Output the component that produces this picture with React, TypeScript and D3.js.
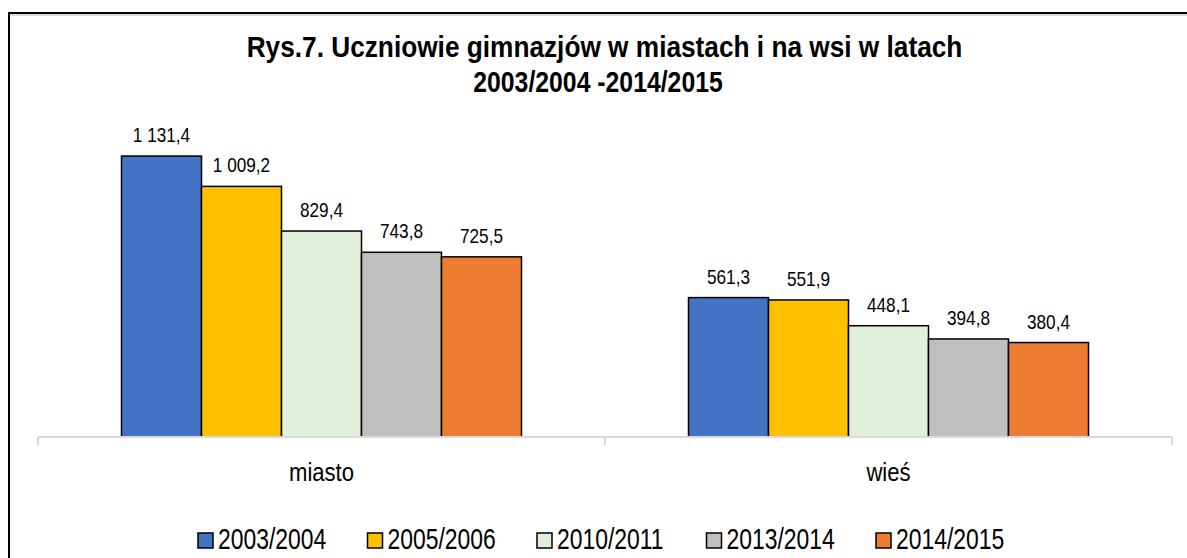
import React from "react";
import * as d3 from "d3";

const categories = ["miasto", "wieś"];
const seriesNames = ["2003/2004", "2005/2006", "2010/2011", "2013/2014", "2014/2015"];
const miastoValues = [1131.4, 1009.2, 829.4, 743.8, 725.5];
const wiesValues = [561.3, 551.9, 448.1, 394.8, 380.4];
const seriesColors = ["#4472C4", "#FFC000", "#E2EFDA", "#BFBFBF", "#ED7D31"];
const titleLines = ["Rys.7. Uczniowie gimnazjów w miastach i na wsi w latach", "2003/2004 -2014/2015"];

const valuesByCategory = [miastoValues, wiesValues];

const W = 1187;
const H = 558;
const FONT = "'Liberation Sans', Arial, sans-serif";

const locale = d3.formatLocale({ decimal: ",", thousands: " ", grouping: [3], currency: ["", ""] });
const fmt = locale.format(",.1f");

export default function App() {
  const x0 = d3.scaleBand<string>().domain(categories).range([38, 1172]).paddingInner(0).paddingOuter(0);
  const bw = x0.bandwidth();
  const x1 = d3.scaleBand<string>().domain(seriesNames).range([0, bw]).paddingInner(0).paddingOuter((bw / 80 - 5) / 2);
  const y = d3.scaleLinear().domain([0, 1200]).range([437, 139]);
  const baseY = y(0);

  const txt = (x: number, yy: number, s: string, size: number, sx: number, opts: any = {}) => (
    <text
      transform={`translate(${x},${yy}) scale(${sx},1)`}
      textAnchor={opts.anchor ?? "middle"}
      fontFamily={FONT}
      fontSize={size}
      fontWeight={opts.bold ? "bold" : "normal"}
      fill="#000"
    >
      {s}
    </text>
  );

  const legendStart = 198;
  const legendStep = 169.5;

  return (
    <svg width={W} height={H} style={{ position: "absolute", left: 0, top: 0, background: "#fff" }}>
      <rect x={0} y={0} width={W} height={H} fill="#fff" />
      <rect x={9} y={13} width={W + 20} height={H + 20} fill="none" stroke="#000" strokeWidth={2} />
      <line x1={10} x2={W} y1={15} y2={15} stroke="#bbb" strokeWidth={1} />

      {txt(604.5, 57, titleLines[0], 29, 0.905, { bold: true })}
      {txt(598, 92, titleLines[1], 29, 0.855, { bold: true })}

      {categories.map((c, ci) => (
        <g key={c}>
          {seriesNames.map((s, si) => {
            const v = valuesByCategory[ci][si];
            const bx = (x0(c) ?? 0) + (x1(s) ?? 0);
            const by = y(v);
            return (
              <g key={s}>
                <rect x={bx} y={by} width={x1.bandwidth()} height={baseY - by} fill={seriesColors[si]} stroke="#000" strokeWidth={1.5} />
                {txt(bx + x1.bandwidth() / 2, by - 14, fmt(v), 20, 0.86)}
              </g>
            );
          })}
          {txt((x0(c) ?? 0) + bw / 2, 481, c, 26, 0.85)}
        </g>
      ))}

      <line x1={38} x2={1172} y1={baseY} y2={baseY} stroke="#d9d9d9" strokeWidth={2} />
      {[...categories.map((c) => x0(c) ?? 0), 1172].map((tx, i) => (
        <line key={i} x1={tx} x2={tx} y1={baseY} y2={baseY + 8} stroke="#d9d9d9" strokeWidth={2} />
      ))}

      {seriesNames.map((s, si) => {
        const lx = legendStart + si * legendStep;
        return (
          <g key={s}>
            <rect x={lx} y={533} width={15} height={15} fill={seriesColors[si]} stroke="#000" strokeWidth={1.5} />
            {txt(lx + 20, 549, s, 29, 0.79, { anchor: "start" })}
          </g>
        );
      })}
    </svg>
  );
}
